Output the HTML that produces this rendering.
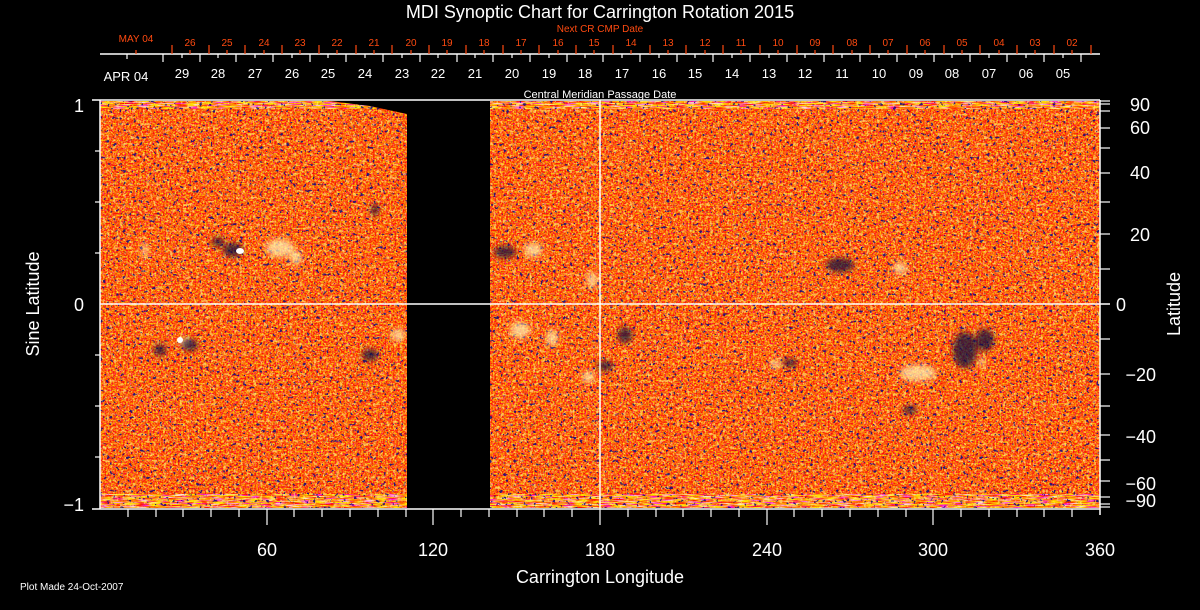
<!DOCTYPE html>
<html><head><meta charset="utf-8"><style>
html,body{margin:0;padding:0;background:#000;}
svg{display:block;}
text{font-family:"Liberation Sans",sans-serif;}
filter{color-interpolation-filters:sRGB;}
</style></head><body>
<svg width="1200" height="610" viewBox="0 0 1200 610" xmlns="http://www.w3.org/2000/svg">
<defs>
<filter id="n" x="0" y="0" width="100%" height="100%" color-interpolation-filters="sRGB">
 <feTurbulence type="fractalNoise" baseFrequency="0.6" numOctaves="2" seed="3" result="t"/>
 <feColorMatrix in="t" type="matrix" values="0 0 0 0 1  0 2.2 0 0 -0.72  0 0 3 0 -1.7  0 0 0 0 1"/>
</filter>
<filter id="d" x="0" y="0" width="100%" height="100%" color-interpolation-filters="sRGB">
 <feTurbulence type="fractalNoise" baseFrequency="0.3" numOctaves="2" seed="7" result="t"/>
 <feColorMatrix in="t" type="matrix" values="0 0 0 0 0.05  0 0 0 0 0.03  0 0 0 0 0.5  -14 0 0 0 4.9"/>
</filter>
<filter id="w" x="0" y="0" width="100%" height="100%" color-interpolation-filters="sRGB">
 <feTurbulence type="fractalNoise" baseFrequency="0.3" numOctaves="2" seed="11" result="t"/>
 <feColorMatrix in="t" type="matrix" values="0 0 0 0 1  0 0 0 0 0.95  0 0 0 0 0.5  14 0 0 0 -8.6"/>
</filter>
<filter id="p" x="0" y="0" width="100%" height="100%" color-interpolation-filters="sRGB">
 <feTurbulence type="fractalNoise" baseFrequency="0.08 0.9" numOctaves="2" seed="5" result="t"/>
 <feColorMatrix in="t" type="matrix" values="0 0 0 0 1  0 3 0 0 -0.9  0 0 6 0 -3  0 0 0 0 1"/>
</filter>
<clipPath id="c"><rect x="100" y="101" width="307" height="407"/><rect x="490" y="101" width="610" height="407"/></clipPath>
<filter id="b" color-interpolation-filters="sRGB"><feGaussianBlur stdDeviation="3"/></filter>
</defs>

<g clip-path="url(#c)">
 <rect x="100" y="101" width="1000" height="407" fill="#ee5a1c"/>
 <rect x="100" y="101" width="1000" height="407" filter="url(#n)" opacity="0.8"/>
 <rect x="100" y="101" width="1000" height="8" filter="url(#p)" opacity="0.8"/>
 <rect x="100" y="494" width="1000" height="14" filter="url(#p)" opacity="0.8"/>
 <rect x="100" y="101" width="1000" height="407" filter="url(#w)" opacity="0.6"/>
 <rect x="100" y="101" width="1000" height="407" filter="url(#d)" opacity="0.85"/>
 <g fill="#fff0b0" filter="url(#b)" opacity="0.75">
  <ellipse cx="280" cy="248" rx="14" ry="9"/><ellipse cx="296" cy="258" rx="6" ry="7"/>
  <ellipse cx="185" cy="342" rx="6" ry="4"/><ellipse cx="398" cy="335" rx="7" ry="6"/>
  <ellipse cx="533" cy="250" rx="9" ry="7"/><ellipse cx="592" cy="280" rx="5" ry="8"/>
  <ellipse cx="588" cy="377" rx="6" ry="6"/><ellipse cx="520" cy="330" rx="10" ry="8"/>
  <ellipse cx="552" cy="338" rx="6" ry="8"/><ellipse cx="776" cy="364" rx="6" ry="4"/>
  <ellipse cx="918" cy="373" rx="18" ry="8"/><ellipse cx="900" cy="268" rx="7" ry="6"/>
  <ellipse cx="982" cy="362" rx="4" ry="4"/><ellipse cx="145" cy="250" rx="3" ry="8"/>
 </g>
 <g fill="#101040" filter="url(#b)" opacity="0.75">
  <ellipse cx="233" cy="250" rx="10" ry="7"/><ellipse cx="218" cy="242" rx="6" ry="5"/>
  <ellipse cx="190" cy="345" rx="8" ry="6"/><ellipse cx="160" cy="350" rx="6" ry="6"/>
  <ellipse cx="505" cy="252" rx="11" ry="6"/><ellipse cx="605" cy="366" rx="8" ry="5"/>
  <ellipse cx="625" cy="335" rx="7" ry="8"/><ellipse cx="790" cy="363" rx="7" ry="4"/>
  <ellipse cx="965" cy="350" rx="12" ry="18"/><ellipse cx="985" cy="340" rx="9" ry="11"/>
  <ellipse cx="840" cy="265" rx="14" ry="7"/><ellipse cx="375" cy="210" rx="4" ry="6"/>
  <ellipse cx="370" cy="355" rx="8" ry="6"/><ellipse cx="910" cy="410" rx="7" ry="4"/>
 </g>
 <ellipse cx="240" cy="251" rx="4" ry="3" fill="#fff"/>
 <ellipse cx="180" cy="340" rx="3" ry="3" fill="#fff"/>
</g>
<polygon points="330,101 407,101 407,114 370,106" fill="#000"/>

<g stroke="#fff" stroke-width="1.5" fill="none">
 <line x1="92" y1="100" x2="1100" y2="100"/>
 <line x1="100" y1="100" x2="100" y2="509"/>
 <line x1="92" y1="509" x2="1100" y2="509"/>
 <line x1="1100" y1="100" x2="1100" y2="515"/>
 <line x1="100" y1="304" x2="1110" y2="304"/>
 <line x1="600" y1="100" x2="600" y2="509"/>
 <line x1="100" y1="54" x2="1100" y2="54"/>
</g>
<g stroke="#fff" stroke-width="1.2">
 <line x1="95" y1="151" x2="100" y2="151"/><line x1="95" y1="202" x2="100" y2="202"/>
 <line x1="95" y1="253" x2="100" y2="253"/><line x1="95" y1="355" x2="100" y2="355"/>
 <line x1="95" y1="406" x2="100" y2="406"/><line x1="95" y1="457" x2="100" y2="457"/>
 <line x1="1100" y1="101" x2="1110" y2="101"/><line x1="1100" y1="104" x2="1110" y2="104"/>
 <line x1="1100" y1="111" x2="1110" y2="111"/><line x1="1100" y1="128" x2="1110" y2="128"/>
 <line x1="1100" y1="148" x2="1110" y2="148"/><line x1="1100" y1="173" x2="1110" y2="173"/>
 <line x1="1100" y1="202" x2="1110" y2="202"/><line x1="1100" y1="234" x2="1110" y2="234"/>
 <line x1="1100" y1="269" x2="1110" y2="269"/><line x1="1100" y1="339" x2="1110" y2="339"/>
 <line x1="1100" y1="374" x2="1110" y2="374"/><line x1="1100" y1="406" x2="1110" y2="406"/>
 <line x1="1100" y1="435" x2="1110" y2="435"/><line x1="1100" y1="460" x2="1110" y2="460"/>
 <line x1="1100" y1="481" x2="1110" y2="481"/><line x1="1100" y1="497" x2="1110" y2="497"/>
 <line x1="1100" y1="504" x2="1110" y2="504"/><line x1="1100" y1="507" x2="1110" y2="507"/>
 <line x1="128" y1="509" x2="128" y2="517"/><line x1="156" y1="509" x2="156" y2="517"/>
 <line x1="183" y1="509" x2="183" y2="517"/><line x1="211" y1="509" x2="211" y2="517"/>
 <line x1="239" y1="509" x2="239" y2="517"/><line x1="267" y1="509" x2="267" y2="525"/>
 <line x1="294" y1="509" x2="294" y2="517"/><line x1="322" y1="509" x2="322" y2="517"/>
 <line x1="350" y1="509" x2="350" y2="517"/><line x1="378" y1="509" x2="378" y2="517"/>
 <line x1="406" y1="509" x2="406" y2="517"/><line x1="433" y1="509" x2="433" y2="525"/>
 <line x1="461" y1="509" x2="461" y2="517"/><line x1="489" y1="509" x2="489" y2="517"/>
 <line x1="517" y1="509" x2="517" y2="517"/><line x1="544" y1="509" x2="544" y2="517"/>
 <line x1="572" y1="509" x2="572" y2="517"/><line x1="600" y1="509" x2="600" y2="525"/>
 <line x1="628" y1="509" x2="628" y2="517"/><line x1="656" y1="509" x2="656" y2="517"/>
 <line x1="683" y1="509" x2="683" y2="517"/><line x1="711" y1="509" x2="711" y2="517"/>
 <line x1="739" y1="509" x2="739" y2="517"/><line x1="767" y1="509" x2="767" y2="525"/>
 <line x1="794" y1="509" x2="794" y2="517"/><line x1="822" y1="509" x2="822" y2="517"/>
 <line x1="850" y1="509" x2="850" y2="517"/><line x1="878" y1="509" x2="878" y2="517"/>
 <line x1="906" y1="509" x2="906" y2="517"/><line x1="933" y1="509" x2="933" y2="525"/>
 <line x1="961" y1="509" x2="961" y2="517"/><line x1="989" y1="509" x2="989" y2="517"/>
 <line x1="1017" y1="509" x2="1017" y2="517"/><line x1="1044" y1="509" x2="1044" y2="517"/>
 <line x1="1072" y1="509" x2="1072" y2="517"/>
</g>
<g stroke="#fff" stroke-width="1.2">
 <line x1="127" y1="54" x2="127" y2="59"/>
 <line x1="163" y1="54" x2="163" y2="62"/><line x1="200" y1="54" x2="200" y2="62"/><line x1="236" y1="54" x2="236" y2="62"/><line x1="273" y1="54" x2="273" y2="62"/><line x1="310" y1="54" x2="310" y2="62"/><line x1="346" y1="54" x2="346" y2="62"/><line x1="383" y1="54" x2="383" y2="62"/><line x1="420" y1="54" x2="420" y2="62"/><line x1="457" y1="54" x2="457" y2="62"/><line x1="493" y1="54" x2="493" y2="62"/><line x1="530" y1="54" x2="530" y2="62"/><line x1="567" y1="54" x2="567" y2="62"/><line x1="603" y1="54" x2="603" y2="62"/><line x1="640" y1="54" x2="640" y2="62"/><line x1="677" y1="54" x2="677" y2="62"/><line x1="713" y1="54" x2="713" y2="62"/><line x1="750" y1="54" x2="750" y2="62"/><line x1="787" y1="54" x2="787" y2="62"/><line x1="824" y1="54" x2="824" y2="62"/><line x1="860" y1="54" x2="860" y2="62"/><line x1="897" y1="54" x2="897" y2="62"/><line x1="934" y1="54" x2="934" y2="62"/><line x1="970" y1="54" x2="970" y2="62"/><line x1="1007" y1="54" x2="1007" y2="62"/><line x1="1044" y1="54" x2="1044" y2="62"/><line x1="1081" y1="54" x2="1081" y2="62"/>
 <line x1="182" y1="54" x2="182" y2="58"/><line x1="218" y1="54" x2="218" y2="58"/><line x1="255" y1="54" x2="255" y2="58"/><line x1="292" y1="54" x2="292" y2="58"/><line x1="328" y1="54" x2="328" y2="58"/><line x1="365" y1="54" x2="365" y2="58"/><line x1="402" y1="54" x2="402" y2="58"/><line x1="438" y1="54" x2="438" y2="58"/><line x1="475" y1="54" x2="475" y2="58"/><line x1="512" y1="54" x2="512" y2="58"/><line x1="549" y1="54" x2="549" y2="58"/><line x1="585" y1="54" x2="585" y2="58"/><line x1="622" y1="54" x2="622" y2="58"/><line x1="659" y1="54" x2="659" y2="58"/><line x1="695" y1="54" x2="695" y2="58"/><line x1="732" y1="54" x2="732" y2="58"/><line x1="769" y1="54" x2="769" y2="58"/><line x1="805" y1="54" x2="805" y2="58"/><line x1="842" y1="54" x2="842" y2="58"/><line x1="879" y1="54" x2="879" y2="58"/><line x1="916" y1="54" x2="916" y2="58"/><line x1="952" y1="54" x2="952" y2="58"/><line x1="989" y1="54" x2="989" y2="58"/><line x1="1026" y1="54" x2="1026" y2="58"/><line x1="1063" y1="54" x2="1063" y2="58"/>
</g>
<g stroke="#ff4a10" stroke-width="1.2">
 <line x1="136" y1="50" x2="136" y2="54"/>
 <line x1="172" y1="45" x2="172" y2="54"/><line x1="209" y1="45" x2="209" y2="54"/><line x1="245" y1="45" x2="245" y2="54"/><line x1="282" y1="45" x2="282" y2="54"/><line x1="319" y1="45" x2="319" y2="54"/><line x1="356" y1="45" x2="356" y2="54"/><line x1="392" y1="45" x2="392" y2="54"/><line x1="429" y1="45" x2="429" y2="54"/><line x1="466" y1="45" x2="466" y2="54"/><line x1="503" y1="45" x2="503" y2="54"/><line x1="539" y1="45" x2="539" y2="54"/><line x1="576" y1="45" x2="576" y2="54"/><line x1="613" y1="45" x2="613" y2="54"/><line x1="650" y1="45" x2="650" y2="54"/><line x1="686" y1="45" x2="686" y2="54"/><line x1="723" y1="45" x2="723" y2="54"/><line x1="760" y1="45" x2="760" y2="54"/><line x1="797" y1="45" x2="797" y2="54"/><line x1="833" y1="45" x2="833" y2="54"/><line x1="870" y1="45" x2="870" y2="54"/><line x1="907" y1="45" x2="907" y2="54"/><line x1="944" y1="45" x2="944" y2="54"/><line x1="980" y1="45" x2="980" y2="54"/><line x1="1017" y1="45" x2="1017" y2="54"/><line x1="1054" y1="45" x2="1054" y2="54"/><line x1="1091" y1="45" x2="1091" y2="54"/>
 <line x1="190" y1="50" x2="190" y2="54"/><line x1="227" y1="50" x2="227" y2="54"/><line x1="264" y1="50" x2="264" y2="54"/><line x1="300" y1="50" x2="300" y2="54"/><line x1="337" y1="50" x2="337" y2="54"/><line x1="374" y1="50" x2="374" y2="54"/><line x1="411" y1="50" x2="411" y2="54"/><line x1="447" y1="50" x2="447" y2="54"/><line x1="484" y1="50" x2="484" y2="54"/><line x1="521" y1="50" x2="521" y2="54"/><line x1="558" y1="50" x2="558" y2="54"/><line x1="594" y1="50" x2="594" y2="54"/><line x1="631" y1="50" x2="631" y2="54"/><line x1="668" y1="50" x2="668" y2="54"/><line x1="705" y1="50" x2="705" y2="54"/><line x1="741" y1="50" x2="741" y2="54"/><line x1="778" y1="50" x2="778" y2="54"/><line x1="815" y1="50" x2="815" y2="54"/><line x1="852" y1="50" x2="852" y2="54"/><line x1="888" y1="50" x2="888" y2="54"/><line x1="925" y1="50" x2="925" y2="54"/><line x1="962" y1="50" x2="962" y2="54"/><line x1="999" y1="50" x2="999" y2="54"/><line x1="1035" y1="50" x2="1035" y2="54"/><line x1="1072" y1="50" x2="1072" y2="54"/>
</g>

<text x="600" y="18" fill="#fff" font-size="18" text-anchor="middle">MDI Synoptic Chart for Carrington Rotation 2015</text>
<text x="600" y="32" fill="#ff4a10" font-size="10" text-anchor="middle">Next CR CMP Date</text>
<g fill="#ff4a10" font-size="10" text-anchor="middle">
 <text x="136" y="42">MAY 04</text>
 <text x="190" y="46">26</text><text x="227" y="46">25</text><text x="264" y="46">24</text><text x="300" y="46">23</text><text x="337" y="46">22</text><text x="374" y="46">21</text><text x="411" y="46">20</text><text x="447" y="46">19</text><text x="484" y="46">18</text><text x="521" y="46">17</text><text x="558" y="46">16</text><text x="594" y="46">15</text><text x="631" y="46">14</text><text x="668" y="46">13</text><text x="705" y="46">12</text><text x="741" y="46">11</text><text x="778" y="46">10</text><text x="815" y="46">09</text><text x="852" y="46">08</text><text x="888" y="46">07</text><text x="925" y="46">06</text><text x="962" y="46">05</text><text x="999" y="46">04</text><text x="1035" y="46">03</text><text x="1072" y="46">02</text>
</g>
<g fill="#fff" font-size="13" text-anchor="middle">
 <text x="126" y="81">APR 04</text>
 <text x="182" y="78">29</text><text x="218" y="78">28</text><text x="255" y="78">27</text><text x="292" y="78">26</text><text x="328" y="78">25</text><text x="365" y="78">24</text><text x="402" y="78">23</text><text x="438" y="78">22</text><text x="475" y="78">21</text><text x="512" y="78">20</text><text x="549" y="78">19</text><text x="585" y="78">18</text><text x="622" y="78">17</text><text x="659" y="78">16</text><text x="695" y="78">15</text><text x="732" y="78">14</text><text x="769" y="78">13</text><text x="805" y="78">12</text><text x="842" y="78">11</text><text x="879" y="78">10</text><text x="916" y="78">09</text><text x="952" y="78">08</text><text x="989" y="78">07</text><text x="1026" y="78">06</text><text x="1063" y="78">05</text>
</g>
<text x="600" y="98" fill="#fff" font-size="11" text-anchor="middle">Central Meridian Passage Date</text>

<g fill="#fff" font-size="18">
 <text x="84" y="112" text-anchor="end">1</text>
 <text x="84" y="311" text-anchor="end">0</text>
 <text x="84" y="511" text-anchor="end">−1</text>
 <text x="1150" y="111" text-anchor="end">90</text>
 <text x="1150" y="134" text-anchor="end">60</text>
 <text x="1150" y="179" text-anchor="end">40</text>
 <text x="1150" y="241" text-anchor="end">20</text>
 <text x="1116" y="311">0</text>
 <text x="1156" y="381" text-anchor="end">−20</text>
 <text x="1156" y="443" text-anchor="end">−40</text>
 <text x="1156" y="490" text-anchor="end">−60</text>
 <text x="1156" y="507" text-anchor="end">−90</text>
 <text x="267" y="556" text-anchor="middle">60</text>
 <text x="433" y="556" text-anchor="middle">120</text>
 <text x="600" y="556" text-anchor="middle">180</text>
 <text x="767" y="556" text-anchor="middle">240</text>
 <text x="933" y="556" text-anchor="middle">300</text>
 <text x="1100" y="556" text-anchor="middle">360</text>
 <text x="600" y="583" text-anchor="middle">Carrington Longitude</text>
 <text transform="translate(39,304) rotate(-90)" text-anchor="middle">Sine Latitude</text>
 <text transform="translate(1180,304) rotate(-90)" text-anchor="middle">Latitude</text>
</g>
<text x="20" y="590" fill="#fff" font-size="10">Plot Made 24-Oct-2007</text>
</svg>
</body></html>
